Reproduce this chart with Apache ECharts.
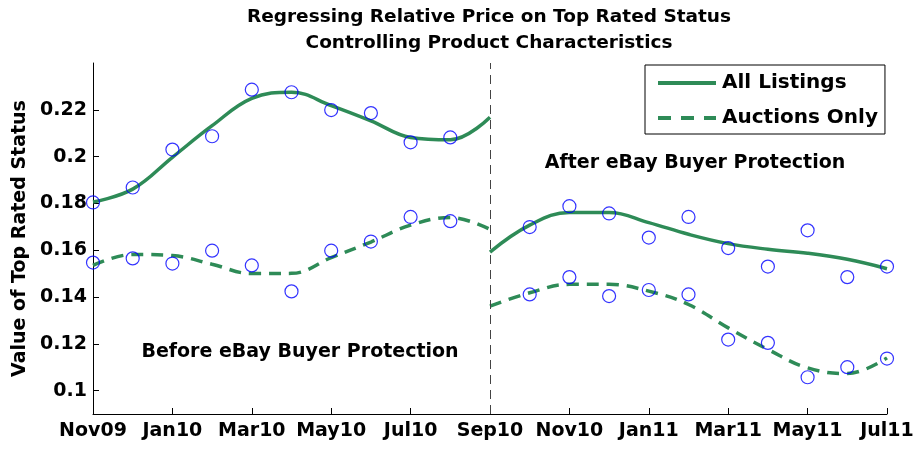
<!DOCTYPE html>
<html>
<head>
<meta charset="utf-8">
<script src="https://cdn.jsdelivr.net/npm/echarts@6/dist/echarts.min.js"></script>
<style>
  html, body { margin: 0; padding: 0; background: #fff; }
  #main { width: 917px; height: 449px; }
</style>
</head>
<body>
<div id="main"></div>
<script>
// months counted from Nov09 (0) to Jul11 (20)
var xTickLabels = ['Nov09', 'Jan10', 'Mar10', 'May10', 'Jul10', 'Sep10', 'Nov10', 'Jan11', 'Mar11', 'May11', 'Jul11'];
var yTicks = [0.1, 0.12, 0.14, 0.16, 0.18, 0.2, 0.22];

var preMonths = [0, 1, 2, 3, 4, 5, 6, 7, 8, 9];
var postMonths = [11, 12, 13, 14, 15, 16, 17, 18, 19, 20];
var preFitMonths = [0, 1, 2, 3, 4, 5, 6, 7, 8, 9, 10];
var postFitMonths = [10, 11, 12, 13, 14, 15, 16, 17, 18, 19, 20];

// observed estimates (circles)
var allObsPre = [0.1804, 0.1868, 0.2030, 0.2087, 0.2286, 0.2275, 0.2199, 0.2186, 0.2061, 0.2082];
var allObsPost = [0.1699, 0.1788, 0.1757, 0.1654, 0.1742, 0.1609, 0.1530, 0.1685, 0.1485, 0.1530];
var aucObsPre = [0.1547, 0.1565, 0.1543, 0.1598, 0.1535, 0.1424, 0.1598, 0.1637, 0.1742, 0.1724];
var aucObsPost = [0.1411, 0.1485, 0.1404, 0.1430, 0.1411, 0.1218, 0.1204, 0.1057, 0.1100, 0.1137];

// fitted curves
var allFitPre = [0.1806, 0.1861, 0.1997, 0.2132, 0.2249, 0.2275, 0.2218, 0.2153, 0.2082, 0.2072, 0.2168];
var allFitPost = [0.1592, 0.1707, 0.1761, 0.1761, 0.1718, 0.1668, 0.1628, 0.1604, 0.1587, 0.1561, 0.1521];
var aucFitPre = [0.1535, 0.1582, 0.1577, 0.1540, 0.1500, 0.1501, 0.1568, 0.1635, 0.1707, 0.1740, 0.1689];
var aucFitPost = [0.1361, 0.1418, 0.1454, 0.1454, 0.1425, 0.1368, 0.1268, 0.1176, 0.1097, 0.1073, 0.1140];

var breakMonth = 10;

function pairs(xs, ys) {
    return xs.map(function (x, i) { return [x, ys[i]]; });
}

var FONT = 'DejaVu Sans';
var green = '#2e8b57';

var chart = echarts.init(document.getElementById('main'));

function fitLine(name, xs, ys, dashed) {
    return {
        name: name,
        type: 'line',
        data: pairs(xs, ys),
        smooth: 0.4,
        symbol: 'none',
        lineStyle: { color: green, width: 3.5, type: dashed ? [12, 8] : 'solid' },
        itemStyle: { color: green },
        z: 3
    };
}

function dots(name, xs, ys) {
    return {
        name: name,
        type: 'scatter',
        data: pairs(xs, ys),
        symbol: 'circle',
        symbolSize: 13,
        itemStyle: { color: 'rgba(0,0,0,0)', borderColor: '#0000ff', borderWidth: 1.2 },
        z: 4
    };
}

var option = {
    animation: false,
    title: {
        text: 'Regressing Relative Price on Top Rated Status\nControlling Product Characteristics',
        left: 484,
        top: -1,
        textAlign: 'center',
        textStyle: { fontFamily: FONT, fontWeight: 'bold', fontSize: 18.5, lineHeight: 26, color: '#000' }
    },
    grid: { left: 93, right: 30, top: 63, bottom: 35 },
    legend: {
        data: [
            { name: 'All Listings' },
            { name: 'Auctions Only', lineStyle: { type: [13, 10], width: 4 } }
        ],
        orient: 'vertical',
        left: 645,
        top: 65,
        padding: [8, 7, 6, 11],
        itemWidth: 58,
        itemHeight: 20,
        itemGap: 15,
        borderColor: '#000',
        borderWidth: 1,
        itemStyle: { opacity: 0 },
        lineStyle: { width: 4 },
        textStyle: { fontFamily: FONT, fontWeight: 'bold', fontSize: 20, lineHeight: 20, color: '#000', padding: [0, 0, 0, 1] }
    },
    xAxis: {
        type: 'value',
        min: 0,
        max: 20,
        interval: 2,
        splitLine: { show: false },
        axisLine: { lineStyle: { color: '#000', width: 1 } },
        axisTick: { inside: true, length: 6, lineStyle: { color: '#000' } },
        axisLabel: {
            margin: 8,
            fontFamily: FONT, fontWeight: 'bold', fontSize: 19, color: '#000',
            showMinLabel: true, showMaxLabel: true,
            formatter: function (v) { return xTickLabels[Math.round(v / 2)]; }
        }
    },
    yAxis: {
        type: 'value',
        min: 0.09,
        max: 0.24,
        name: 'Value of Top Rated Status',
        nameLocation: 'middle',
        nameGap: 62,
        nameTextStyle: { fontFamily: FONT, fontWeight: 'bold', fontSize: 19, color: '#000' },
        splitLine: { show: false },
        axisLine: { show: true, lineStyle: { color: '#000', width: 1 } },
        axisTick: { show: true, inside: true, length: 6, customValues: yTicks, lineStyle: { color: '#000' } },
        axisLabel: {
            margin: 6,
            customValues: yTicks,
            fontFamily: FONT, fontWeight: 'bold', fontSize: 19, color: '#000'
        }
    },
    graphic: [
        {
            type: 'text', x: 300, y: 352,
            style: { text: 'Before eBay Buyer Protection', align: 'center', verticalAlign: 'middle',
                     font: 'bold 19px "DejaVu Sans"', fill: '#000' }
        },
        {
            type: 'text', x: 695, y: 163,
            style: { text: 'After eBay Buyer Protection', align: 'center', verticalAlign: 'middle',
                     font: 'bold 19px "DejaVu Sans"', fill: '#000' }
        }
    ],
    series: [
        fitLine('All Listings', preFitMonths, allFitPre, false),
        fitLine('Auctions Only', preFitMonths, aucFitPre, true),
        fitLine('All Listings', postFitMonths, allFitPost, false),
        fitLine('Auctions Only', postFitMonths, aucFitPost, true),
        dots('All obs', preMonths, allObsPre),
        dots('All obs', postMonths, allObsPost),
        dots('Auction obs', preMonths, aucObsPre),
        dots('Auction obs', postMonths, aucObsPost),
        {
            name: 'break',
            type: 'line',
            data: [],
            markLine: {
                silent: true,
                symbol: 'none',
                label: { show: false },
                lineStyle: { color: '#444', width: 1, type: [9, 6] },
                data: [{ xAxis: breakMonth }]
            }
        }
    ]
};

chart.setOption(option);
</script>
</body>
</html>
